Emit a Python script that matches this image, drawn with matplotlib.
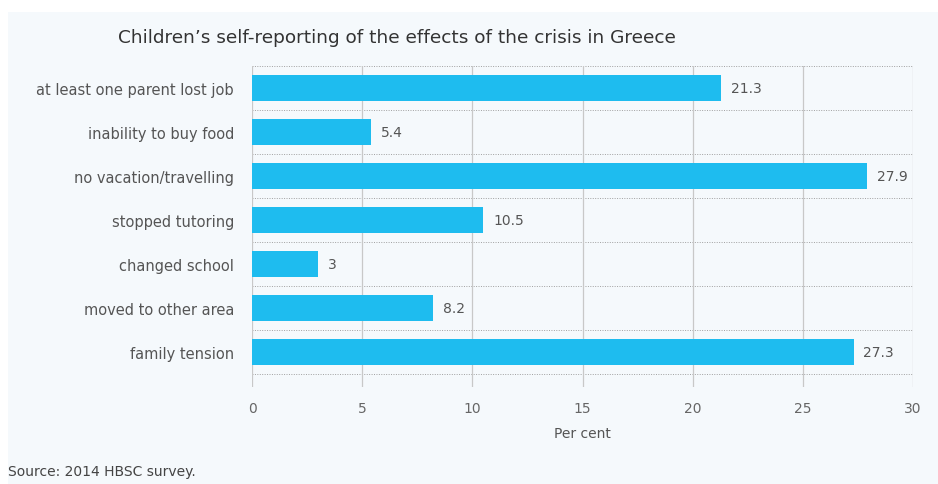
import matplotlib.pyplot as plt
from matplotlib.patches import Rectangle

categories = [
    'at least one parent lost job',
    'inability to buy food',
    'no vacation/travelling',
    'stopped tutoring',
    'changed school',
    'moved to other area',
    'family tension',
]
values = [21.3, 5.4, 27.9, 10.5, 3, 8.2, 27.3]
value_labels = ['21.3', '5.4', '27.9', '10.5', '3', '8.2', '27.3']
xticks = [0, 5, 10, 15, 20, 25, 30]

plt.rcParams['font.family'] = ['DejaVu Sans']

fig = plt.figure(figsize=(9.38, 4.85), dpi=100)
fig.patch.set_facecolor('white')
# light panel behind the chart
fig.add_artist(Rectangle((8 / 938, 0), 1, 1 - 13 / 485, transform=fig.transFigure,
                         facecolor='#f5f9fc', edgecolor='none', zorder=-10))

ax = fig.add_axes([252 / 938, 1 - 388 / 485, 661 / 938, 321 / 485])
ax.set_facecolor('none')

ypos = list(range(len(categories)))
ax.barh(ypos, values, height=0.6, color='#1ebcef', zorder=3)
for y, v, lab in zip(ypos, values, value_labels):
    ax.text(v + 0.45, y, lab, va='center', ha='left', fontsize=10, color='#555555')

# dotted separators between categories
for k in range(len(categories) + 1):
    ax.axhline(k - 0.5, color='#a0a0a0', lw=0.7, ls=(0, (1, 1.5)), zorder=1)
for x in xticks:
    ax.axvline(x, color='#c8c8c8', lw=0.9, zorder=2)

ax.set_xlim(0, 30)
ax.set_ylim(6.8, -0.5)
ax.set_yticks(ypos)
ax.set_yticklabels(categories, fontsize=10.5, color='#555555')
ax.set_xticks(xticks)
ax.set_xticklabels([str(x) for x in xticks], fontsize=10, color='#666666')
ax.tick_params(length=0, pad=10)
ax.tick_params(axis='y', pad=13)
for s in ax.spines.values():
    s.set_visible(False)
ax.set_xlabel('Per cent', fontsize=10, color='#555555', labelpad=8)

fig.text(118 / 938, 1 - 38 / 485, "Children\u2019s self-reporting of the effects of the crisis in Greece",
         fontsize=13.3, color='#333333', va='center', ha='left')
fig.text(8 / 938, 1 - 472 / 485, 'Source: 2014 HBSC survey.', fontsize=10, color='#444444',
         va='center', ha='left')

fig.savefig('out.png', dpi=100, facecolor=fig.get_facecolor())
